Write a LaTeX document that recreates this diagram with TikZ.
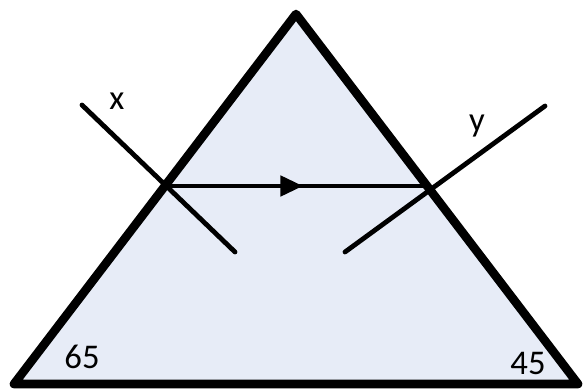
\documentclass[tikz,border=0pt]{standalone}
\usepackage{fontspec}
\setmainfont{Carlito}
\usetikzlibrary{arrows.meta,decorations.markings}
\definecolor{paleblue}{RGB}{231,236,247}
\begin{document}
\begin{tikzpicture}[x=0.75pt,y=-0.75pt, every node/.style={font=\fontsize{26}{28}\selectfont}]
\useasboundingbox (0,0) rectangle (583,392);
\coordinate (T) at (296,14); \coordinate (BL) at (14,384); \coordinate (BR) at (578,384);
\fill[paleblue,draw=black,line width=6.5pt,line join=round] (T) -- (BL) -- (BR) -- cycle;
\coordinate (P) at (165,186); \coordinate (Q) at (428,186);
\draw[line width=3.6pt,postaction={decorate},decoration={markings,mark=at position 0.525 with {\arrow{Triangle[length=17pt,width=15pt]}}}] (P) -- (Q);
\coordinate (x1) at (82,105); \coordinate (x2) at (235,252);
\coordinate (y1) at (345,252); \coordinate (y2) at (545,106);
\draw[line width=3.6pt,line cap=round] (x1) -- (x2);
\draw[line width=3.6pt,line cap=round] (y1) -- (y2);
\node (xlab) at (117,101) {x};
\node (ylab) at (477,126) {y};
\node (a65) at (82,357) {65};
\node (a45) at (528,363) {45};
\end{tikzpicture}
\end{document}
